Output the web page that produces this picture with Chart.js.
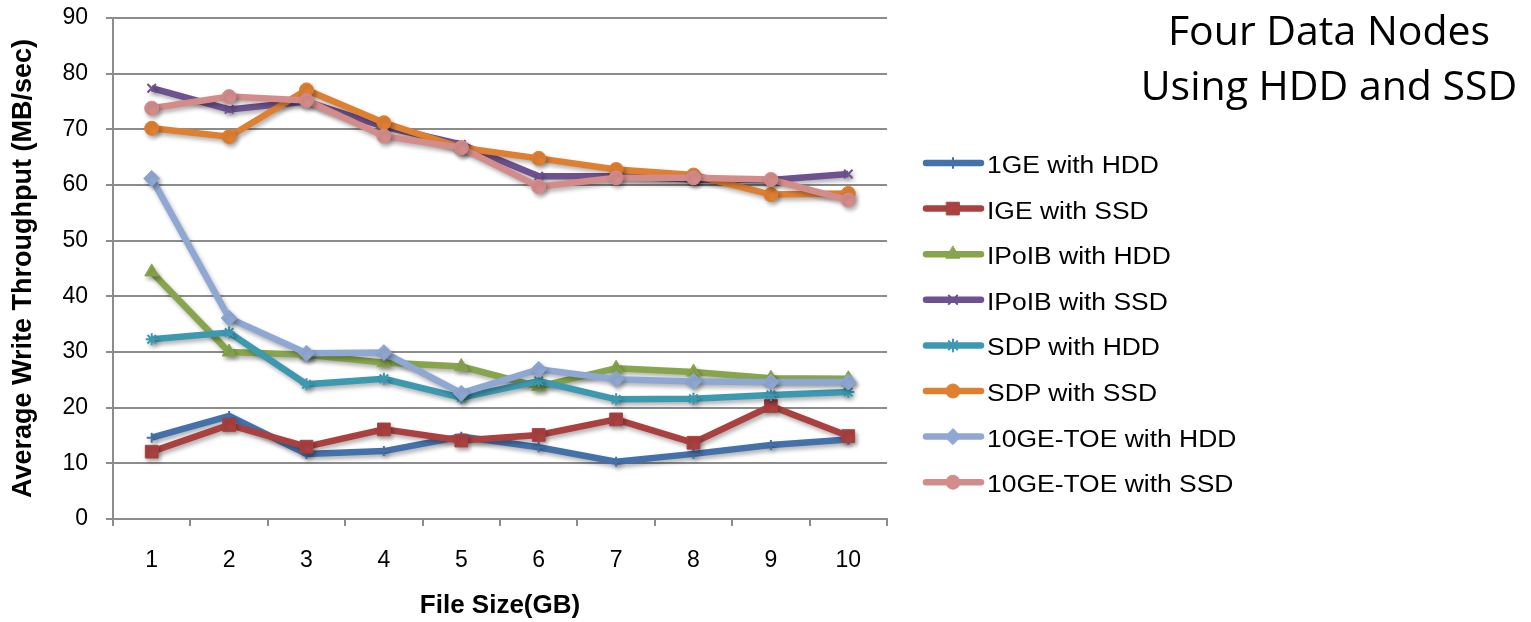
<!DOCTYPE html>
<html>
<head>
<meta charset="utf-8">
<script src="https://cdn.jsdelivr.net/npm/chart.js@4/dist/chart.umd.min.js"></script>
<style>
  html, body { margin: 0; padding: 0; background: #fff; }
  #wrap { position: relative; width: 1531px; height: 622px; overflow: hidden; }
  #c { position: absolute; left: 0; top: 0; }
  #title { position: absolute; left: 1129px; width: 400px; top: 2px; text-align: center;
           font-family: "Open Sans", sans-serif; font-size: 41px; line-height: 55px; color: #000; }
  .lg { position: absolute; left: 987px; font-family: "Liberation Sans", Arial, sans-serif;
        font-size: 23px; color: #000; line-height: 24px; white-space: nowrap;
        transform: scaleX(1.15); transform-origin: left center; }
</style>
</head>
<body>
<div id="wrap">
  <canvas id="c" width="1531" height="622"></canvas>
  <div id="title">Four Data Nodes<br>Using HDD and SSD</div>
  <div id="legend"></div>
</div>
<script>
const categories = ['1','2','3','4','5','6','7','8','9','10'];
const seriesNames = ['1GE with HDD','IGE with SSD','IPoIB with HDD','IPoIB with SSD','SDP with HDD','SDP with SSD','10GE-TOE with HDD','10GE-TOE with SSD'];
const gigeHdd  = [14.6, 18.5, 11.7, 12.2, 14.8, 12.9, 10.3, 11.7, 13.3, 14.3];
const gigeSsd  = [12.1, 16.9, 13.0, 16.1, 14.1, 15.1, 17.9, 13.7, 20.3, 14.9];
const ipoibHdd = [44.4, 30.0, 29.5, 28.1, 27.4, 23.8, 27.1, 26.4, 25.3, 25.2];
const ipoibSsd = [77.4, 73.6, 75.0, 70.5, 67.3, 61.6, 61.6, 61.0, 60.9, 62.0];
const sdpHdd   = [32.3, 33.5, 24.2, 25.2, 21.8, 24.8, 21.5, 21.6, 22.3, 22.8];
const sdpSsd   = [70.2, 68.7, 77.1, 71.2, 66.7, 64.8, 62.8, 61.8, 58.3, 58.5];
const toeHdd   = [61.2, 36.1, 29.8, 29.9, 22.6, 26.9, 25.1, 24.7, 24.6, 24.6];
const toeSsd   = [73.8, 75.9, 75.2, 68.8, 66.7, 59.7, 61.3, 61.3, 61.0, 57.3];
const yTicks = [0,10,20,30,40,50,60,70,80,90];

const allValues = [gigeHdd, gigeSsd, ipoibHdd, ipoibSsd, sdpHdd, sdpSsd, toeHdd, toeSsd];
const colors = ['#4471aa','#aa4140','#87a54c','#6d528f','#3d99b0','#df7f31','#8fa8d3','#d48c8b'];
const styles = [
  {ps:'cross', r:5},
  {ps:'rect', r:9},
  {ps:'triangle', r:8},
  {ps:'crossRot', r:6},
  {ps:'star', r:6},
  {ps:'circle', r:7},
  {ps:'rectRot', r:8},
  {ps:'circle', r:7}
];

const datasets = allValues.map((vals, i) => ({
  label: seriesNames[i],
  data: vals,
  borderColor: colors[i],
  backgroundColor: colors[i],
  borderWidth: 6.5,
  pointStyle: styles[i].ps,
  pointRadius: styles[i].r,
  pointBorderWidth: (styles[i].ps === 'cross' || styles[i].ps === 'crossRot' || styles[i].ps === 'star') ? 2 : 1,
  pointBorderColor: colors[i],
  pointBackgroundColor: colors[i],
  tension: 0,
  order: 7 - i
}));

const legendTop = 163, legendStep = 45.6;
const legendDiv = document.getElementById('legend');
seriesNames.forEach((n, i) => {
  const d = document.createElement('div');
  d.className = 'lg';
  d.style.top = (legendTop + i * legendStep - 10) + 'px';
  d.textContent = n;
  legendDiv.appendChild(d);
});

const shadowPlugin = {
  id: 'shadow',
  beforeDatasetDraw(chart) {
    const ctx = chart.ctx;
    ctx.save();
    ctx.shadowColor = 'rgba(0,0,0,0.30)';
    ctx.shadowBlur = 4;
    ctx.shadowOffsetX = 2;
    ctx.shadowOffsetY = 3;
  },
  afterDatasetDraw(chart) { chart.ctx.restore(); }
};

const legendSwatches = {
  id: 'legendSwatches',
  afterDraw(chart) {
    const ctx = chart.ctx;
    chart.data.datasets.forEach((ds, i) => {
      const y = legendTop + i * legendStep;
      ctx.save();
      ctx.strokeStyle = ds.borderColor;
      ctx.lineWidth = 6.5;
      ctx.lineCap = 'round';
      ctx.beginPath();
      ctx.moveTo(926, y);
      ctx.lineTo(981, y);
      ctx.stroke();
      ctx.fillStyle = ds.pointBackgroundColor;
      ctx.strokeStyle = ds.pointBorderColor;
      ctx.lineWidth = ds.pointBorderWidth;
      if (Chart.helpers && Chart.helpers.drawPoint) {
        Chart.helpers.drawPoint(ctx, {pointStyle: ds.pointStyle, radius: ds.pointRadius, rotation: 0, borderWidth: ds.pointBorderWidth}, 953, y);
      }
      ctx.restore();
    });
  }
};

new Chart(document.getElementById('c'), {
  type: 'line',
  data: { labels: categories, datasets },
  options: {
    responsive: false,
    animation: false,
    devicePixelRatio: 1,
    layout: { padding: { left: 0, top: 0, right: 644, bottom: 0 } },
    plugins: { legend: { display: false }, tooltip: { enabled: false }, title: { display: false } },
    scales: {
      x: {
        offset: true,
        grid: { display: true, drawOnChartArea: false, drawTicks: true, tickLength: 7, offset: true, color: '#8c8c8c', lineWidth: 2 },
        border: { color: '#8c8c8c', width: 2 },
        ticks: { color: '#000', font: { family: 'Liberation Sans', size: 23 }, padding: 21, maxRotation: 0 },
        title: { display: true, text: 'File Size(GB)', color: '#000', font: { family: 'Liberation Sans', size: 26, weight: 'bold' }, padding: { top: 0, bottom: 1 } },
        afterFit(scale) { scale.height = 103; }
      },
      y: {
        min: 0, max: 90,
        afterBuildTicks(scale) { scale.ticks = yTicks.map(v => ({ value: v })); },
        grid: { color: '#8c8c8c', lineWidth: 2, tickLength: 7 },
        border: { color: '#8c8c8c', width: 2 },
        ticks: { color: '#000', font: { family: 'Liberation Sans', size: 23, lineHeight: 0.01 }, padding: 18 },
        title: { display: true, text: 'Average Write Throughput (MB/sec)', color: '#000', font: { family: 'Liberation Sans', size: 27, weight: 'bold' }, padding: { top: 7, bottom: 0 } },
        afterFit(scale) { scale.width = 113; }
      }
    }
  },
  plugins: [shadowPlugin, legendSwatches]
});
</script>
</body>
</html>
